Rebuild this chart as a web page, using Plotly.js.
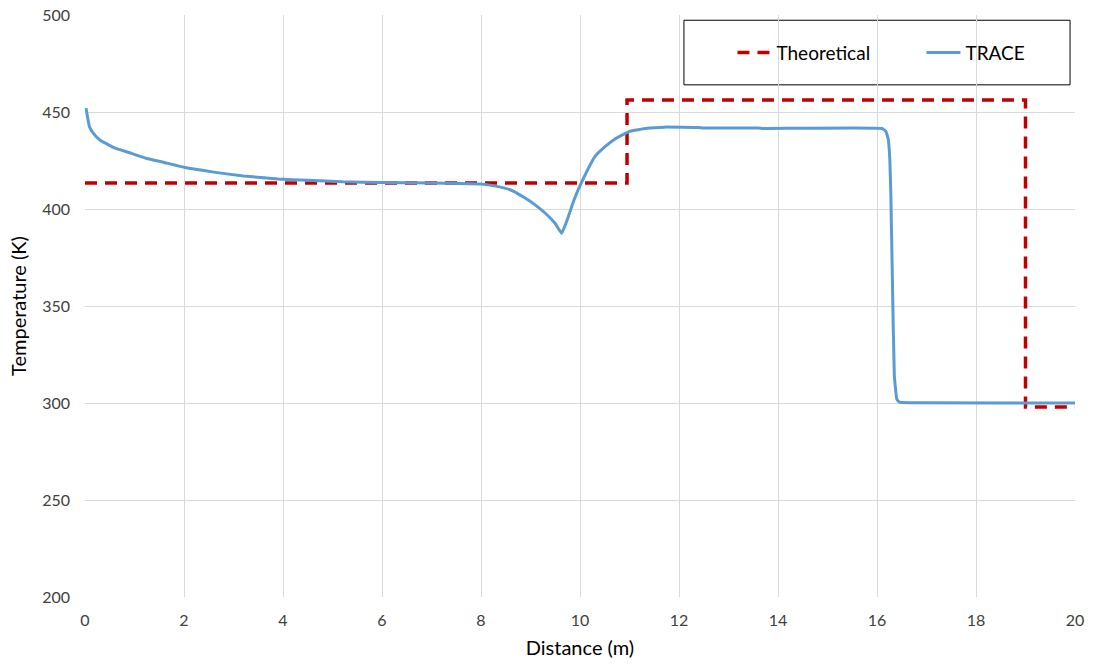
<!DOCTYPE html>
<html>
<head>
<meta charset="utf-8">
<script src="https://cdn.plot.ly/plotly-3.0.1.min.js"></script>
<style>
  html, body { margin: 0; padding: 0; background: #ffffff; }
  #chart { width: 1094px; height: 670px; }
</style>
</head>
<body>
<div id="chart"></div>
<script>
// Theoretical step profile along the pipe
const theoreticalDistance = [0, 10.95, 10.95, 19, 19, 20];
const theoreticalTemp = [413.4, 413.4, 456.2, 456.2, 297.9, 297.9];

// TRACE simulated temperature profile
const traceDistance = [0.02, 0.09, 0.17, 0.3, 0.57, 0.9, 1.25, 1.6, 2.0, 2.6, 3.2, 3.9, 4.5, 5.2, 6.0, 7.0, 7.6, 8.0, 8.3, 8.6, 8.9, 9.1, 9.3, 9.5, 9.63, 9.75, 9.87, 10.0, 10.15, 10.3, 10.5, 10.7, 11.0, 11.35, 11.7, 12.4, 12.5, 13.6, 13.7, 16.1, 16.18, 16.23, 16.26, 16.28, 16.31, 16.35, 16.4, 16.45, 16.5, 20];
const traceTemp = [452, 442.4, 439, 435.6, 431.8, 429, 426, 424, 421.5, 419, 417, 415.5, 414.8, 414, 413.6, 413.4, 413.2, 412.9, 411.8, 409.8, 405.5, 402, 397.8, 392.5, 387.5, 395, 404, 412, 420, 427, 432, 436, 440, 441.6, 442.2, 442, 441.7, 441.7, 441.5, 441.5, 440, 435.6, 425, 407, 365, 314, 302, 300.5, 300.2, 300];

const xTicks = [0, 2, 4, 6, 8, 10, 12, 14, 16, 18, 20];
const yTicks = [200, 250, 300, 350, 400, 450, 500];

const fontFamily = 'Lato, "Open Sans", "Liberation Sans", sans-serif';

const data = [
  {
    name: 'Theoretical',
    x: theoreticalDistance,
    y: theoreticalTemp,
    mode: 'lines',
    line: { color: '#c00000', width: 3.5, dash: '12px,8px' }
  },
  {
    name: 'TRACE',
    x: traceDistance,
    y: traceTemp,
    mode: 'lines',
    line: { color: '#5b9bd5', width: 3, shape: 'spline', smoothing: 0.3 }
  }
];

const layout = {
  width: 1094,
  height: 670,
  margin: { l: 85, r: 19, t: 15, b: 73, autoexpand: false },
  paper_bgcolor: '#ffffff',
  plot_bgcolor: '#ffffff',
  font: { family: fontFamily, size: 16, color: '#404040' },
  showlegend: true,
  legend: {
    orientation: 'h',
    x: 0.654, xanchor: 'left',
    y: 0.9355, yanchor: 'middle',
    bgcolor: 'rgba(0,0,0,0)',
    borderwidth: 0,
    font: { family: fontFamily, size: 19, color: '#000000' },
    entrywidth: 140,
    itemwidth: 34
  },
  xaxis: {
    range: [0, 20],
    tickvals: xTicks,
    ticktext: xTicks.map(String),
    showgrid: true,
    gridcolor: '#d9d9d9',
    gridwidth: 1,
    zeroline: false,
    showline: false,
    ticks: '',
    ticklabelstandoff: 12,
    tickfont: { size: 16, color: '#404040' },
    title: { text: 'Distance (m)', font: { size: 20, color: '#000000' }, standoff: 12 }
  },
  yaxis: {
    range: [200, 500],
    tickvals: yTicks,
    ticktext: yTicks.map(String),
    showgrid: true,
    gridcolor: '#d9d9d9',
    gridwidth: 1,
    zeroline: false,
    showline: false,
    ticks: '',
    ticklabelstandoff: 14,
    tickfont: { size: 16, color: '#404040' },
    title: { text: 'Temperature (K)', font: { size: 20, color: '#000000' }, standoff: 10 }
  },
  shapes: [
    {
      type: 'rect', xref: 'paper', yref: 'paper',
      x0: 0.605, x1: 0.995, y0: 0.880, y1: 0.991,
      line: { color: '#000000', width: 1 },
      fillcolor: '#ffffff',
      layer: 'below'
    }
  ]
};

Plotly.newPlot('chart', data, layout, { displayModeBar: false, staticPlot: true });
</script>
</body>
</html>
